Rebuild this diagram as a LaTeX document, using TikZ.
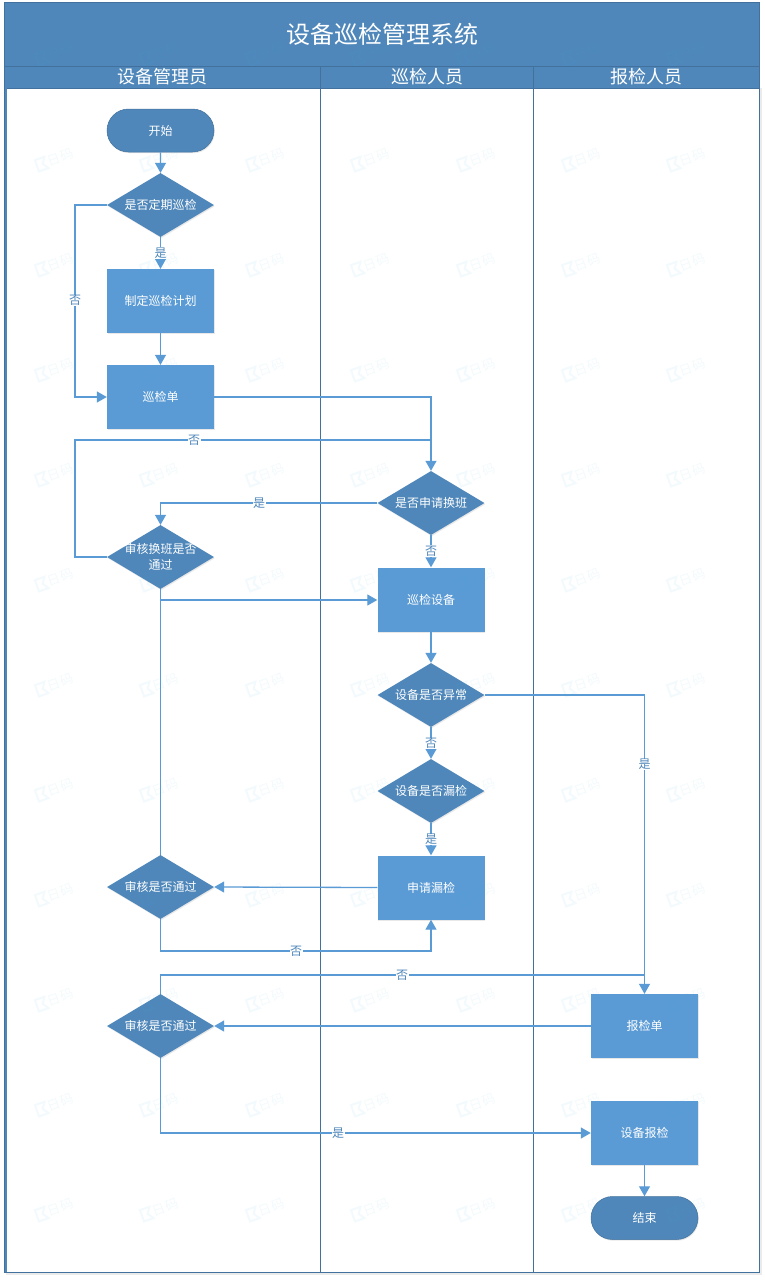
\documentclass[tikz,border=0pt]{standalone}
\usepackage{fontspec}
\setmainfont{Noto Sans CJK SC}
\usetikzlibrary{arrows.meta,positioning,calc,shapes,shadows}
\definecolor{headblue}{HTML}{4F87BA}
\definecolor{edgeblue}{HTML}{41719C}
\definecolor{boxblue}{HTML}{5B9BD5}
\definecolor{markblue}{HTML}{35B5E0}
\newcommand{\difftext}[1]{\makebox[0pt]{\raisebox{0pt}[\dimexpr\height+3pt\relax]{\begin{tabular}{@{}c@{}}#1\end{tabular}}}}

\begin{document}
\begin{tikzpicture}[x=1pt,y=-1pt,
    base/.style={text=white,inner sep=0pt,font=\fontsize{12}{16}\selectfont,
      drop shadow={opacity=0.18,shadow xshift=0.8pt,shadow yshift=-1.2pt}},
    termbox/.style={base,rounded rectangle,fill=headblue,draw=edgeblue,line width=0.5pt,
      minimum width=107pt,minimum height=43pt},
    taskbox/.style={base,rectangle,fill=boxblue,minimum width=107pt,minimum height=64pt},
    askbox/.style={base,diamond,fill=headblue,aspect=1.67,minimum width=107pt,minimum height=64pt},
    link/.style={draw=boxblue,line width=1.3pt},
    flow/.style={link,-{Triangle[length=10pt,width=11pt]}},
    tag/.style={fill=white,text=headblue,inner sep=0.5pt,font=\fontsize{12}{14}\selectfont},
    lane/.style={text=white,font=\fontsize{18}{20}\selectfont},
  ]
  \useasboundingbox (0,0) rectangle (765,1280);

  % header and lanes
  \fill[white] (0,0) rectangle (765,1280);
  \fill[black!8] (6,88) rectangle (762,1275);
  \fill[white] (7,89) rectangle (759,1272);
  \draw[edgeblue,fill=headblue,line width=0.7pt] (4.5,2.5) rectangle (759.5,88);
  \draw[edgeblue,line width=0.7pt] (4.5,66) -- (759.5,66);
  \fill[headblue] (4,88) rectangle (7,1272);
  \draw[edgeblue,line width=0.7pt] (4.5,88) -- (4.5,1272.5) -- (759.5,1272.5) -- (759.5,88);
  \draw[edgeblue,line width=0.9pt] (320.5,66) -- (320.5,1272);
  \draw[edgeblue,line width=0.9pt] (533.5,66) -- (533.5,1272);
  \node[text=white,font=\fontsize{24}{28}\selectfont] (title) at (382,34) {设备巡检管理系统};
  \node[lane] (laneA) at (162.5,77) {设备管理员};
  \node[lane] (laneB) at (427.5,77) {巡检人员};
  \node[lane] (laneC) at (646.5,77) {报检人员};

  % first lane
  \node[termbox] (start) at (160.5,130.5) {开始};
  \node[askbox] (askplan) at (160.5,205) {\difftext{是否定期巡检}};
  \node[taskbox] (plan) at (160.5,301) {制定巡检计划};
  \node[taskbox] (sheet) at (160.5,397) {巡检单};
  \node[askbox] (askshift) at (160.5,557) {\difftext{审核换班是否\\通过}};
  \node[askbox] (askmiss) at (160.5,887) {\difftext{审核是否通过}};
  \node[askbox] (askrep) at (160.5,1026) {\difftext{审核是否通过}};

  % second lane
  \node[askbox] (askswap) at (431,503) {\difftext{是否申请换班}};
  \node[taskbox] (inspect) at (431,599.5) {巡检设备};
  \node[askbox] (askfault) at (431,695) {\difftext{设备是否异常}};
  \node[askbox] (asklost) at (431,791) {\difftext{设备是否漏检}};
  \node[taskbox] (redo) at (431,887.5) {申请漏检};

  % third lane
  \node[taskbox] (form) at (644.5,1026) {报检单};
  \node[taskbox] (report) at (644.5,1133) {设备报检};
  \node[termbox] (stop) at (644.5,1218) {结束};

  % joins
  \coordinate (joinA) at (431,440);
  \coordinate (joinB) at (160.5,600);
  \coordinate (joinC) at (644.5,975);

  % connectors
  \draw[flow] (start) -- (askplan);
  \draw[flow] (askplan) -- (plan);
  \draw[flow] (plan) -- (sheet);
  \draw[flow] (askplan.west) -- (75,205) -- (75,397) -- (sheet.west);
  \draw[flow] (sheet.east) -| (askswap.north);
  \draw[link] (askshift.west) -- (75,557) -- (75,440) -- (joinA);
  \draw[flow] (askswap.west) -| (askshift.north);
  \draw[flow] (askswap) -- (inspect);
  \draw[link] (askshift.south) -- (joinB);
  \draw[flow] (joinB) -- (joinB -| inspect.west);
  \draw[link] (askmiss.north) -- (joinB);
  \draw[flow] (inspect) -- (askfault);
  \draw[flow] (askfault) -- (asklost);
  \draw[flow] (asklost) -- (redo);
  \draw[flow] (askfault.east) -| (form.north);
  \draw[flow] (redo.west) -- (askmiss.east);
  \draw[flow] (askmiss.south) -- (160.5,951) -| (redo.south);
  \draw[link] (askrep.north) |- (joinC);
  \draw[flow] (form.west) -- (askrep.east);
  \draw[flow] (askrep.south) |- (report.west);
  \draw[flow] (report) -- (stop);

  % labels
  \node[tag] (tagA) at (160.5,253) {是};
  \node[tag] (tagB) at (75,300.5) {否};
  \node[tag] (tagC) at (194,440) {否};
  \node[tag] (tagD) at (259,503.5) {是};
  \node[tag] (tagE) at (431,551) {否};
  \node[tag] (tagF) at (431,743.5) {否};
  \node[tag] (tagG) at (431,839.5) {是};
  \node[tag] (tagH) at (644.5,764.5) {是};
  \node[tag] (tagI) at (296,951.5) {否};
  \node[tag] (tagJ) at (402,975.5) {否};
  \node[tag] (tagK) at (338,1133) {是};

  % watermark
  \foreach \mx in {53,158,264,369,475,580,685}
    \foreach \my in {54,160,265,370,475,580,685,790,895,1000,1105,1210} {
      \begin{scope}[shift={(\mx,\my)},rotate=20,opacity=0.06]
        \draw[markblue,line width=2pt] (-7,-6) -- (-17,-6) -- (-17,6) -- (-7,6) -- (-11,0) -- cycle;
        \node[text=markblue,font=\fontsize{13}{13}\selectfont,rotate=20,inner sep=0pt] at (8,0) {日码};
      \end{scope}
    }
\end{tikzpicture}
\end{document}
